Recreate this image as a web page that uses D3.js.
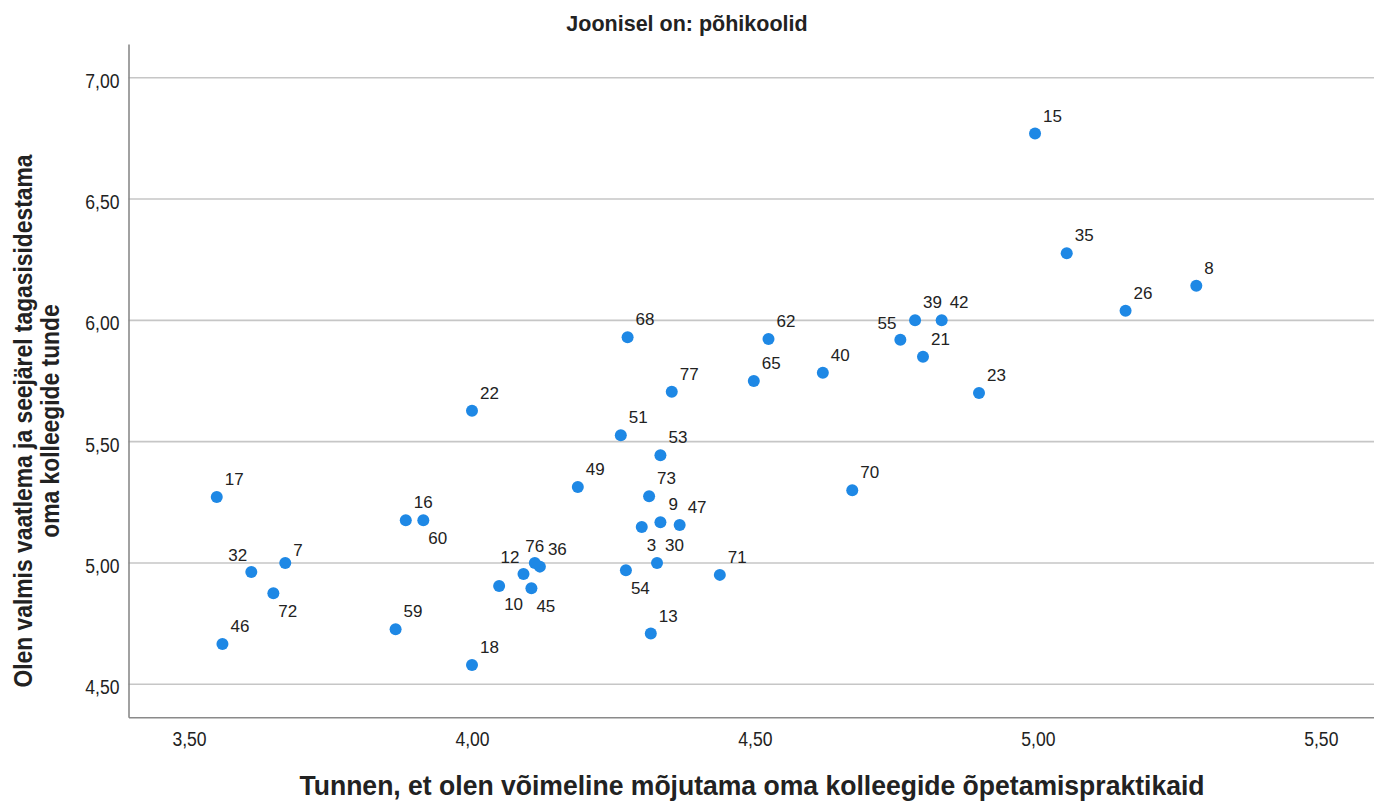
<!DOCTYPE html>
<html>
<head>
<meta charset="utf-8">
<script src="https://cdn.jsdelivr.net/npm/d3@7"></script>
<style>
  html, body { margin: 0; padding: 0; background: #ffffff; }
  svg { display: block; }
  text { font-family: "Liberation Sans", Arial, sans-serif; fill: #222; }
</style>
</head>
<body>
<svg id="chart" width="1374" height="801"></svg>
<script>
// ---- Data ----
const chartTitle = "Joonisel on: põhikoolid";
const xTitle = "Tunnen, et olen võimeline mõjutama oma kolleegide õpetamispraktikaid";
const yTitleLines = ["Olen valmis vaatlema ja seejärel tagasisidestama", "oma kolleegide tunde"];

const caseIds = [3, 7, 8, 9, 10, 12, 13, 15, 16, 17, 18, 21, 22, 23, 26, 30, 32, 35, 36, 39, 40,
                 42, 45, 46, 47, 49, 51, 53, 54, 55, 59, 60, 62, 65, 68, 70, 71, 72, 73, 76, 77];
const xValues = [4.300, 3.670, 5.280, 4.333, 4.048, 4.091, 4.316, 4.995, 3.883, 3.549, 4.000, 4.797, 4.000, 4.896, 5.155, 4.327, 3.610, 5.051, 4.120, 4.783, 4.620,
                 4.830, 4.105, 3.559, 4.367, 4.187, 4.263, 4.333, 4.272, 4.757, 3.865, 3.914, 4.524, 4.498, 4.275, 4.672, 4.438, 3.649, 4.313, 4.111, 4.353];
const yValues = [5.148, 5.000, 6.143, 5.168, 4.905, 4.955, 4.709, 6.770, 5.176, 5.272, 4.580, 5.850, 5.627, 5.701, 6.040, 5.000, 4.963, 6.277, 4.985, 6.000, 5.784,
                 6.000, 4.896, 4.666, 5.157, 5.313, 5.526, 5.444, 4.970, 5.920, 4.727, 5.176, 5.923, 5.750, 5.930, 5.300, 4.951, 4.875, 5.275, 5.000, 5.706];

const xTicks = [3.5, 4.0, 4.5, 5.0, 5.5];
const yTicks = [4.5, 5.0, 5.5, 6.0, 6.5, 7.0];
const xDomain = [3.393, 5.594];
const yDomain = [4.364, 7.139];

// label placement around the point (styling, not data)
const labelPlacement = { 3: "se", 10: "se", 45: "se", 54: "se", 60: "se", 72: "se",
                         12: "nw", 32: "nw", 55: "nw", 76: "n", 7: "e" };

// ---- Layout ----
const svg = d3.select("#chart");
const plot = { left: 128.5, right: 1374, top: 44, bottom: 717.3 };

const x = d3.scaleLinear().domain(xDomain).range([plot.left, plot.right]);
const y = d3.scaleLinear().domain(yDomain).range([plot.bottom, plot.top]);
const fmt = v => d3.format(".2f")(v).replace(".", ",");

function squeeze(sel, factor) {
  sel.each(function () {
    const len = this.getComputedTextLength();
    d3.select(this).attr("textLength", len * factor).attr("lengthAdjust", "spacingAndGlyphs");
  });
}

// gridlines
svg.append("g").selectAll("line").data(yTicks).join("line")
  .attr("x1", plot.left).attr("x2", plot.right)
  .attr("y1", d => y(d)).attr("y2", d => y(d))
  .attr("stroke", "#c6c6c6").attr("stroke-width", 1.6);

// axes (no tick marks)
const yAxis = d3.axisLeft(y).tickValues(yTicks).tickFormat(fmt).tickSize(0).tickPadding(9);
const gy = svg.append("g").attr("transform", `translate(${plot.left},0)`).call(yAxis);
gy.select(".domain").attr("stroke", "#8a8a8a").attr("stroke-width", 1.6);
gy.selectAll("text").attr("font-size", 19.5).attr("fill", "#222")
  .attr("font-family", "'Liberation Sans', Arial, sans-serif").attr("dy", "0.48em");
squeeze(gy.selectAll("text"), 0.9);

const xAxis = d3.axisBottom(x).tickValues(xTicks).tickFormat(fmt).tickSize(0).tickPadding(15);
const gx = svg.append("g").attr("transform", `translate(0,${plot.bottom})`).call(xAxis);
gx.select(".domain").attr("stroke", "#8a8a8a").attr("stroke-width", 1.6);
gx.selectAll("text").attr("font-size", 19.5).attr("fill", "#222")
  .attr("font-family", "'Liberation Sans', Arial, sans-serif");
squeeze(gx.selectAll("text"), 0.9);

// points
const pts = caseIds.map((id, i) => ({ id, xv: xValues[i], yv: yValues[i] }));
svg.append("g").selectAll("circle").data(pts).join("circle")
  .attr("cx", d => x(d.xv)).attr("cy", d => y(d.yv)).attr("r", 6)
  .attr("fill", "#1e88e5");

// point labels
const place = {
  ne: { dx: 8, dy: -12, anchor: "start" },
  se: { dx: 5, dy: 24, anchor: "start" },
  nw: { dx: -4, dy: -11, anchor: "end" },
  n:  { dx: 0, dy: -11, anchor: "middle" },
  e:  { dx: 8, dy: -6.5, anchor: "start" }
};
svg.append("g").selectAll("text").data(pts).join("text")
  .each(function (d) {
    const p = place[labelPlacement[d.id] || "ne"];
    d3.select(this)
      .attr("x", x(d.xv) + p.dx).attr("y", y(d.yv) + p.dy)
      .attr("text-anchor", p.anchor);
  })
  .attr("font-size", 17).attr("fill", "#222")
  .text(d => d.id);

// title
svg.append("text").attr("x", 687).attr("y", 31).attr("text-anchor", "middle")
  .attr("font-size", 21.5).attr("font-weight", "bold").attr("fill", "#111")
  .text(chartTitle);

// x title
const xt = svg.append("text").attr("x", 752).attr("y", 795).attr("text-anchor", "middle")
  .attr("font-size", 28).attr("font-weight", "bold").attr("fill", "#111")
  .text(xTitle);
xt.attr("textLength", 905).attr("lengthAdjust", "spacingAndGlyphs");

// y title (two lines, rotated)
const yt = svg.append("g").attr("transform", "translate(0,421) rotate(-90)");
const yl1 = yt.append("text").attr("x", 0).attr("y", 32).attr("text-anchor", "middle")
  .attr("font-size", 26).attr("font-weight", "bold").attr("fill", "#111")
  .text(yTitleLines[0]);
const len1 = yl1.node().getComputedTextLength();
const f = 533 / len1;
yl1.attr("textLength", 533).attr("lengthAdjust", "spacingAndGlyphs");
const yl2 = yt.append("text").attr("x", 0).attr("y", 59).attr("text-anchor", "middle")
  .attr("font-size", 26).attr("font-weight", "bold").attr("fill", "#111")
  .text(yTitleLines[1]);
squeeze(yl2, f);
</script>
</body>
</html>
